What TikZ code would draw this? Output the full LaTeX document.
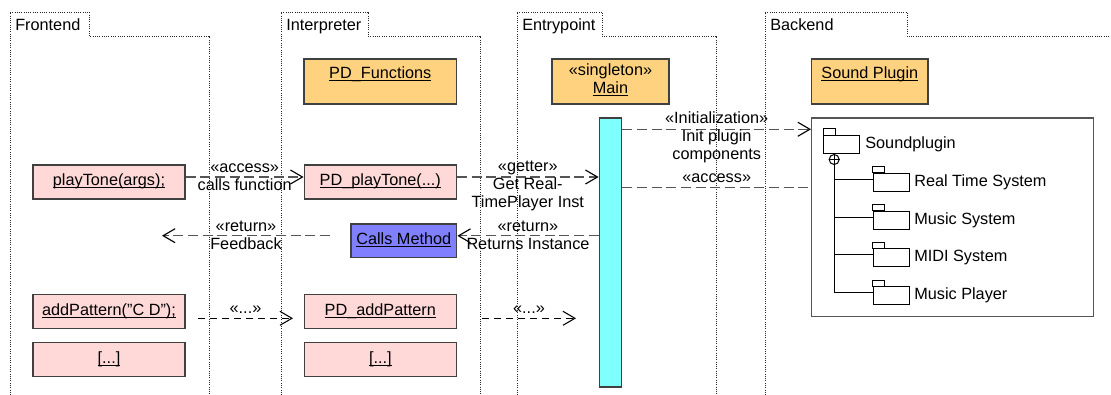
\documentclass[tikz,border=0pt]{standalone}
\usepackage{fontspec}
\setmainfont{Liberation Sans}
\usetikzlibrary{arrows.meta,positioning}

\definecolor{objorange}{HTML}{FFD280}
\definecolor{callpink}{HTML}{FFD8D8}
\definecolor{methblue}{HTML}{8080FF}
\definecolor{barcyan}{HTML}{80FFFF}
\definecolor{edgegray}{HTML}{404040}
\definecolor{msggray}{HTML}{555555}

% underlined object names, rule at a fixed depth
\newcommand{\uname}[1]{\underline{\smash{#1}}\strut}

\tikzset{
  lane/.style={densely dotted, line width=0.7pt, draw=black!85},
  obj/.style={draw=edgegray, line width=1.1pt, fill=objorange, minimum height=33.75pt, align=center, inner sep=0pt},
  call/.style={draw=edgegray, line width=1.1pt, fill=callpink, minimum width=114pt, minimum height=25.5pt, inner sep=0pt},
  method/.style={call, fill=methblue, minimum width=79.3pt, minimum height=25.3pt},
  lifebar/.style={draw=edgegray, line width=1.1pt, fill=barcyan, minimum width=16.8pt, minimum height=201.75pt, inner sep=0pt},
  pluginbox/.style={draw=msggray, line width=1.1pt, minimum width=211.5pt, minimum height=149pt, inner sep=0pt},
  folder/.style={draw, line width=0.75pt, minimum width=26.8pt, minimum height=13.5pt, inner sep=0pt},
  msgline/.style={draw=msggray, line width=0.85pt, dash pattern=on 7.5pt off 3.5pt},
  msg/.style={msgline, -{Straight Barb[length=9pt,width=10.5pt,color=black]}},
  msgdots/.style={draw=black, line width=0.8pt, dash pattern=on 5pt off 4pt, -{Straight Barb[length=9pt,width=10.5pt]}}
}

\begin{document}
\begin{tikzpicture}[x=0.75pt, y=-0.75pt, font=\fontsize{12.2}{13.5}\selectfont]
    \useasboundingbox (0,0) rectangle (1111,394);

    % Swimlane frames with their tabs
    \foreach \lx/\tx/\rx/\lname in {10/89/209/Frontend, 281/368/480/Interpreter, 517/602/716/Entrypoint, 765/907/1112/Backend} {
        \draw[lane] (\lx,395) |- (\tx,12) |- (\rx,36) -- (\rx,395);
        \node[anchor=base west, inner sep=0pt] (lane-\lname) at (\lx+5,30.5) {\lname};
    }

    % Objects on top
    \node[obj, minimum width=114.5pt] (pdfun) at (380.3,81.5) {\uname{PD\_Functions}\\\mbox{}};
    \node[obj, minimum width=87.75pt] (main) at (610.5,81.5) {«singleton»\\\uname{Main}};
    \node[obj, minimum width=87.2pt] (sound) at (869.8,81.5) {\uname{Sound Plugin}\\\mbox{}};

    % Activation of Main
    \node[lifebar] (act) at (610.5,252.5) {};

    % Calls
    \node[call] (play) at (109,182) {\uname{playTone(args);}};
    \node[call] (pdplay) at (380.3,182) {\uname{PD\_playTone(...)}};
    \node[method] (calls) at (403.8,240.8) {\uname{Calls Method}};
    \node[call] (addpat) at (109,311.5) {\uname{addPattern("C D");}};
    \node[call, below=9.5pt of addpat] (more1) {\uname{[...]}};
    \node[call] (pdadd) at (380.3,311.5) {\uname{PD\_addPattern}};
    \node[call, below=9.5pt of pdadd] (more2) {\uname{[...]}};

    % Backend package tree
    \node[pluginbox] (plug) at (952.7,217.3) {};
    \node[folder] (sp) at (841.6,144.5) {};
    \draw[line width=0.75pt] (sp.north west) rectangle ++(12.7,-6.4);
    \node[right=0.5pt of sp] (sp-txt) {Soundplugin};
    \node[circle, draw, line width=0.75pt, inner sep=0pt, minimum size=7.5pt, below=0pt of sp.south west, xshift=8.2pt] (plus) {};
    \draw[line width=0.75pt] (plus.north) -- (plus.south) (plus.west) -- (plus.east);
    \foreach \fn/\fy/\ftext in {rts/182.3/Real Time System, ms/220/Music System, midi/257.8/MIDI System, mp/295.5/Music Player} {
        \node[folder] (\fn) at (891.2,\fy) {};
        \draw[line width=0.75pt] (\fn.north west) rectangle ++(12,-6);
        \node[right=0pt of \fn] (\fn-txt) {\ftext};
        \coordinate (\fn-j) at ([yshift=2.25pt]\fn.west);
        \draw[line width=0.75pt] (plus.south |- \fn-j) -- (\fn-j);
    }
    \draw[line width=0.75pt] (plus.south) -- (plus.south |- mp-j);

    % Messages
    \coordinate (acc-s) at ([yshift=3.75pt]play.east);
    \draw[msg] (acc-s) -- (acc-s -| pdplay.west)
        node[midway, align=center] {«access»\\calls function};
    \coordinate (get-s) at ([yshift=3.75pt]pdplay.east);
    \draw[msg] (get-s) -- (get-s -| act.west)
        node[midway, yshift=-6.5pt, align=center] {«getter»\\Get Real-\\TimePlayer Inst};
    \coordinate (ret-e) at ([yshift=3.75pt]calls.east);
    \draw[msg] (ret-e -| act.west) -- (ret-e)
        node[midway, align=center] {«return»\\Returns Instance};
    \coordinate (fb-s) at (330,235.7);
    \coordinate (fb-e) at (162,235.7);
    \draw[msg] (fb-s) -- (fb-e)
        node[midway, align=center] {«return»\\Feedback};
    \coordinate (dots1-s) at (198,318.3);
    \coordinate (dots1-e) at (293,318.3);
    \draw[msgdots] (dots1-s) -- (dots1-e) node[midway, above] {«...»};
    \coordinate (dots2-s) at (482,318.3);
    \coordinate (dots2-e) at (576,318.3);
    \draw[msgdots] (dots2-s) -- (dots2-e) node[midway, above] {«...»};

    % Main to the backend
    \coordinate (init-s) at ([yshift=-9pt]act.north east);
    \draw[msg] (init-s) -- (init-s -| plug.west)
        node[midway, yshift=-6pt, align=center] {«Initialization»\\Init plugin\\components};
    \coordinate (plug-s) at ([yshift=-52.5pt]act.north east);
    \draw[msgline] (plug-s) -- (plug-s -| plug.west) node[midway, above] {«access»};

\end{tikzpicture}
\end{document}
